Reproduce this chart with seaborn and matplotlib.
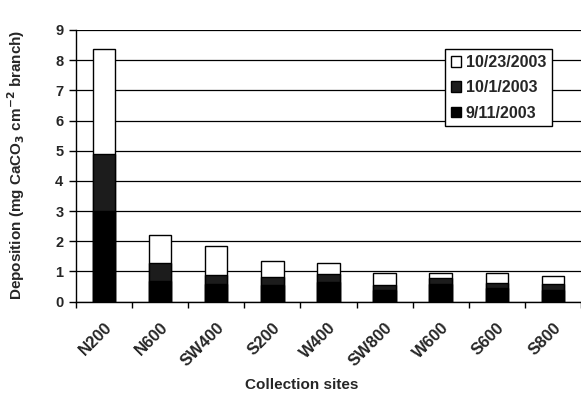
import matplotlib

matplotlib.use("Agg")
import matplotlib.pyplot as plt
import matplotlib.transforms as mtransforms
import numpy as np
import pandas as pd
import seaborn as sns
from matplotlib.patches import Patch

# ---- data ------------------------------------------------------------------
sites = ["N200", "N600", "SW400", "S200", "W400", "SW800", "W600", "S600", "S800"]
dep_0911 = [3.00, 0.70, 0.60, 0.55, 0.65, 0.40, 0.60, 0.45, 0.40]
dep_1001 = [1.89, 0.57, 0.30, 0.26, 0.27, 0.15, 0.17, 0.16, 0.18]
dep_1023 = [3.47, 0.93, 0.94, 0.54, 0.37, 0.41, 0.17, 0.35, 0.28]
dates = ["9/11/2003", "10/1/2003", "10/23/2003"]

sns.set_theme(style="white")
plt.rcParams["font.family"] = ["Liberation Sans", "DejaVu Sans"]
plt.rcParams["font.weight"] = "bold"
plt.rcParams["mathtext.default"] = "bf"

df = pd.DataFrame({"site": sites, "a": dep_0911, "b": dep_1001, "c": dep_1023})
df["cum_b"] = df.a + df.b
df["total"] = df.cum_b + df.c

fig = plt.figure(figsize=(5.81, 4.03), dpi=100)
ax = fig.add_axes([0.1308, 0.2514, 0.8692, 0.6742])

STIPPLE = "#1c1c1c"
for col, color in [("total", "white"), ("cum_b", STIPPLE), ("a", "black")]:
    sns.barplot(data=df, x="site", y=col, color=color, edgecolor="black",
                linewidth=1.0, width=0.4, saturation=1, ax=ax)

ax.set_ylim(0, 9)
ax.set_xlim(-0.5, 8.31)
ax.set_yticks(range(0, 10))
ax.set_axisbelow(True)
ax.yaxis.grid(True, color="black", lw=0.9)
for side in ["top", "right"]:
    ax.spines[side].set_visible(False)
for side in ["left", "bottom"]:
    ax.spines[side].set_color("black")
    ax.spines[side].set_linewidth(1.0)

# tick marks at the category boundaries, labels at the centres
ax.set_xticks(np.arange(len(sites)))
ax.set_xticklabels(sites, rotation=45, ha="right", rotation_mode="anchor",
                   fontsize=12, fontweight="bold")
shift = mtransforms.ScaledTranslation(-8 / 72, -2 / 72, fig.dpi_scale_trans)
for t in ax.get_xticklabels():
    t.set_transform(t.get_transform() + shift)
ax.set_xticks(np.arange(len(sites) + 1) - 0.5, minor=True)
ax.tick_params(axis="x", which="major", length=0, pad=13)
ax.tick_params(axis="x", which="minor", length=4, width=1, color="black",
               direction="out", bottom=True)
ax.tick_params(axis="y", length=5, width=1, color="black", direction="out",
               left=True, labelsize=10.5, pad=4)
for t in ax.get_yticklabels():
    t.set_fontweight("bold")

ax.set_xlabel("Collection sites", fontsize=11, fontweight="bold")
ax.xaxis.set_label_coords(0.4475, -0.281)
ax.set_ylabel("Deposition (mg CaCO$_3$ cm$^{-2}$ branch)",
              fontsize=11, fontweight="bold")
ax.yaxis.set_label_coords(-0.097, 0.503)

handles = [Patch(facecolor="white", edgecolor="black", label=dates[2]),
           Patch(facecolor=STIPPLE, edgecolor="black", label=dates[1]),
           Patch(facecolor="black", edgecolor="black", label=dates[0])]
leg = ax.legend(handles=handles, loc="upper left", bbox_to_anchor=(0.731, 0.929),
                borderaxespad=0, fancybox=False, framealpha=1, edgecolor="black",
                fontsize=11.5, handlelength=0.65, handleheight=0.65,
                handletextpad=0.3, borderpad=0.35, labelspacing=0.65)
leg.get_frame().set_linewidth(1.0)

fig.savefig("out.png", dpi=100)
